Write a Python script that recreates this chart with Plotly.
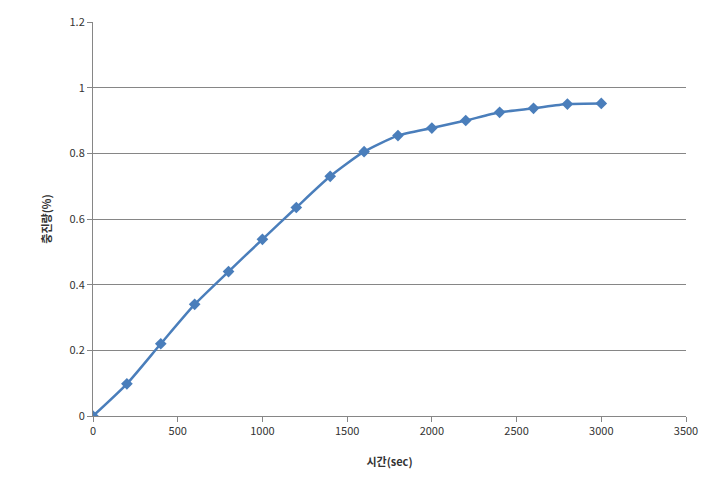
import plotly.graph_objects as go

time_sec = [0, 200, 400, 600, 800, 1000, 1200, 1400, 1600, 1800, 2000, 2200, 2400, 2600, 2800, 3000]
charge = [0, 0.098, 0.22, 0.34, 0.44, 0.538, 0.635, 0.73, 0.805, 0.854, 0.877, 0.9, 0.925, 0.937, 0.95, 0.952]

x_ticks = [0, 500, 1000, 1500, 2000, 2500, 3000, 3500]
y_ticks = [0, 0.2, 0.4, 0.6, 0.8, 1, 1.2]
y_tick_labels = ["0", "0.2", "0.4", "0.6", "0.8", "1", "1.2"]

fig = go.Figure()
fig.add_trace(go.Scatter(
    x=time_sec, y=charge, mode="lines+markers",
    line=dict(color="#4A7EBB", width=2.5, shape="spline", smoothing=0.6),
    marker=dict(symbol="diamond", size=9, color="#4A7EBB"),
    showlegend=False,
))

font_family = "Noto Sans CJK KR, Noto Sans, sans-serif"
fig.update_layout(
    width=723, height=491,
    margin=dict(l=93, r=37, t=22, b=75),
    paper_bgcolor="white", plot_bgcolor="white",
    font=dict(family=font_family, size=11, color="#333333"),
    xaxis=dict(
        range=[0, 3500], tickvals=x_ticks, showgrid=False, zeroline=False,
        showline=True, linecolor="#868686", linewidth=1,
        ticks="outside", ticklen=5, tickcolor="#868686",
        title=dict(text="<b>시간(sec)</b>", font=dict(size=11, color="#333333"), standoff=21),
    ),
    yaxis=dict(
        range=[0, 1.2], tickvals=y_ticks, ticktext=y_tick_labels,
        showgrid=True, gridcolor="#868686", gridwidth=1, zeroline=False,
        showline=True, linecolor="#868686", linewidth=1,
        ticks="outside", ticklen=5, tickcolor="#868686",
        title=dict(text="<b>충진량(%)</b>", font=dict(size=11, color="#333333"), standoff=15),
    ),
)

fig.write_html("out.html")
